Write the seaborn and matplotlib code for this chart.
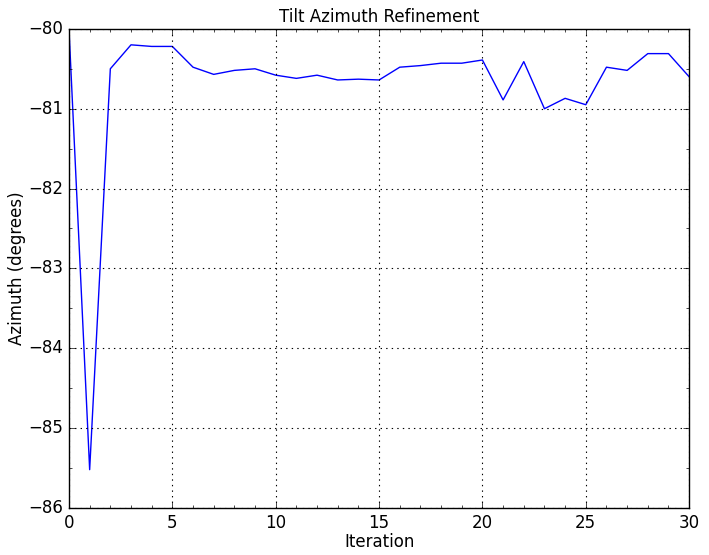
import seaborn as sns
import matplotlib.pyplot as plt
import pandas as pd
from matplotlib.ticker import MultipleLocator

iteration = list(range(31))
azimuth = [-80.00, -85.52, -80.50, -80.20, -80.22, -80.22, -80.48, -80.57,
           -80.52, -80.50, -80.58, -80.62, -80.58, -80.64, -80.63, -80.64,
           -80.48, -80.46, -80.43, -80.43, -80.39, -80.89, -80.41, -81.00,
           -80.87, -80.95, -80.48, -80.52, -80.31, -80.31, -80.60]


def main():
    plt.style.use('classic')
    plt.rcParams['figure.facecolor'] = 'white'
    plt.rcParams['savefig.facecolor'] = 'white'

    data = pd.DataFrame({'Iteration': iteration, 'Azimuth': azimuth})

    fig = plt.figure(figsize=(7.09, 5.55), dpi=100)
    ax = fig.add_axes([0.0973, 0.0847, 0.8747, 0.8633])

    sns.lineplot(data=data, x='Iteration', y='Azimuth', color='b', linewidth=1, ax=ax)

    ax.set_xlim(0, 30)
    ax.set_ylim(-86, -80)
    ax.xaxis.set_major_locator(MultipleLocator(5))
    ax.xaxis.set_minor_locator(MultipleLocator(1))
    ax.yaxis.set_major_locator(MultipleLocator(1))
    ax.yaxis.set_minor_locator(MultipleLocator(0.5))
    ax.grid(True, which='major', color='k', linestyle=':', linewidth=0.8)

    ax.set_title("Tilt Azimuth Refinement", fontsize=12)
    ax.set_xlabel('Iteration', fontsize=12, labelpad=1)
    ax.set_ylabel('Azimuth (degrees)', fontsize=12, labelpad=1.5)

    plt.savefig('out.png', dpi=100)


if __name__ == '__main__':
    main()
